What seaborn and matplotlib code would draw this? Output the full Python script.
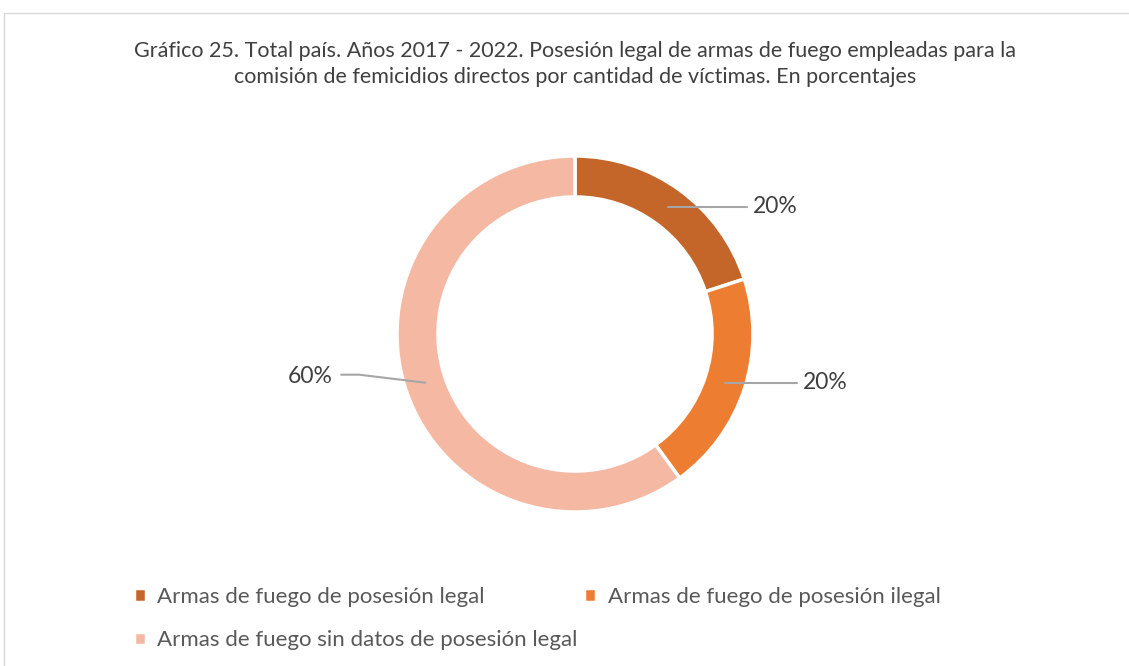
import numpy as np
import matplotlib
matplotlib.use("Agg")
import matplotlib.pyplot as plt
from matplotlib.patches import Rectangle
import seaborn as sns

# data
categorias = ["Armas de fuego de posesión legal",
              "Armas de fuego de posesión ilegal",
              "Armas de fuego sin datos de posesión legal"]
porcentajes = [20, 20, 60]
colores = ["#C4662A", "#ED7D31", "#F4B8A3"]

titulo = ("Gráfico 25. Total país. Años 2017 - 2022. Posesión legal de armas de fuego empleadas para la\n"
          "comisión de femicidios directos por cantidad de víctimas. En porcentajes")

sns.set_theme(style="white")
plt.rcParams['font.family'] = ['Lato', 'DejaVu Sans']

W, H = 1129, 666
fig = plt.figure(figsize=(W / 100, H / 100), dpi=100)
fig.patch.set_facecolor("white")

# chart border (top + left visible)
fig.add_artist(Rectangle((4 / W, -0.1), 2, (H - 13) / H + 0.1, transform=fig.transFigure,
                         fill=False, edgecolor="#D9D9D9", linewidth=1))

# donut axes, center at (575, 334) px, radius 178 px
cx, cy, R = 575, 334, 178
hw, hh = 420, 260
ax = fig.add_axes([(cx - hw) / W, (H - cy - hh) / H, 2 * hw / W, 2 * hh / H])

ring = 0.23
wedges, _ = ax.pie(porcentajes, colors=colores, startangle=90, counterclock=False,
                   radius=1, wedgeprops=dict(width=ring, edgecolor="white", linewidth=2.5))
ax.set_xlim(-hw / R, hw / R)
ax.set_ylim(-hh / R, hh / R)
ax.axis("off")

# labels with leader lines
rmid = 1 - ring / 2
total = sum(porcentajes)
acc = 0
for i, v in enumerate(porcentajes):
    mid = np.deg2rad(90 - (acc + v / 2) / total * 360)
    acc += v
    x0, y0 = rmid * np.cos(mid), rmid * np.sin(mid)
    if x0 > 0:
        dx = (79 if y0 > 0 else 72) / R
        xs, ys = [x0, x0 + dx], [y0, y0]
        ax.text(x0 + dx + 6 / R, y0, f"{v}%", ha="left", va="center", fontsize=16.5, color="#404040")
    else:
        xs = [x0, x0 - 66 / R, x0 - 84 / R]
        ys = [y0, y0 + 8 / R, y0 + 8 / R]
        ax.text(xs[-1] - 9 / R, ys[-1] - 2 / R, f"{v}%", ha="right", va="center", fontsize=16.5, color="#404040")
    ax.plot(xs, ys, color="#A6A6A6", linewidth=1.5)

fig.text(575 / W, 1 - 64 / H, titulo, ha="center", va="center", fontsize=15.5,
         color="#404040", linespacing=1.35)

# legend: row order legal, ilegal / sin datos
orden = [0, 2, 1]
leg = fig.legend([wedges[i] for i in orden], [categorias[i] for i in orden], ncol=2,
                 loc="upper left", bbox_to_anchor=(125 / W, 1 - 578 / H), frameon=False,
                 fontsize=16, handlelength=0.55, handleheight=0.55, handletextpad=0.5,
                 columnspacing=0.3, labelspacing=1.05, labelcolor="#595959",
                 borderaxespad=0, borderpad=0.4)

fig.savefig("out.png", dpi=100, facecolor="white")
